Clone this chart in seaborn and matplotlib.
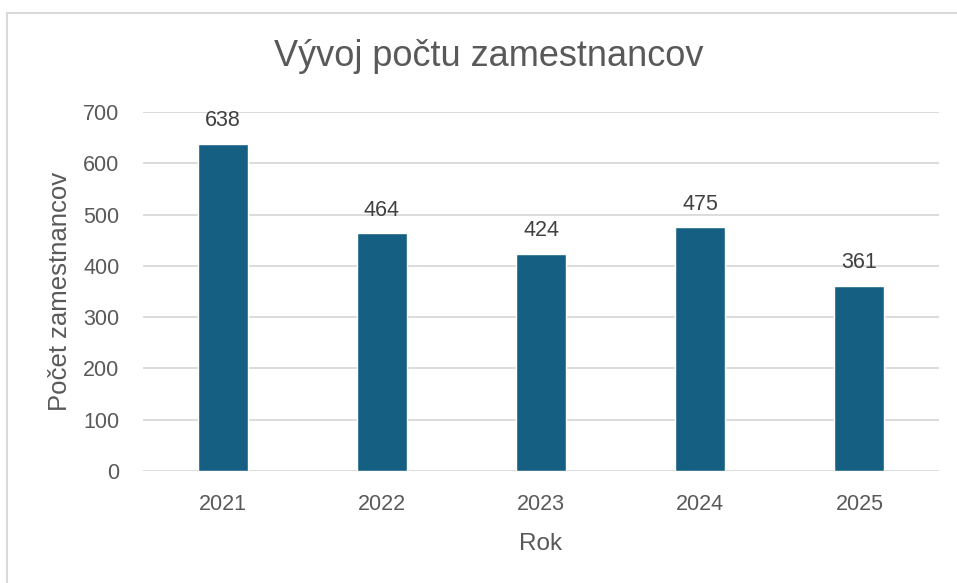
import matplotlib
matplotlib.use("Agg")
import matplotlib.pyplot as plt
import seaborn as sns
import pandas as pd
from matplotlib.lines import Line2D

years = ["2021", "2022", "2023", "2024", "2025"]
counts = [638, 464, 424, 475, 361]
yticks = [0, 100, 200, 300, 400, 500, 600, 700]

df = pd.DataFrame({"Rok": years, "Počet": counts})

sns.set_theme(style="white")
plt.rcParams['font.family'] = ['Liberation Sans', 'DejaVu Sans']

W, H = 957, 583
fig = plt.figure(figsize=(W / 100, H / 100), dpi=100)
ax = fig.add_axes([143 / W, 1 - 471 / H, (939 - 143) / W, (471 - 112) / H])

sns.barplot(data=df, x="Rok", y="Počet", color="#156082", width=0.314,
            saturation=1, ax=ax, zorder=3)

ax.set_ylim(0, 700)
ax.set_xlim(-0.5, len(years) - 0.5)
ax.set_yticks(yticks)
ax.yaxis.grid(True, color="#d9d9d9", linewidth=1.3, zorder=0)
ax.set_axisbelow(True)
for s in ax.spines.values():
    s.set_visible(False)
ax.tick_params(axis="both", length=0, labelsize=15.5, colors="#595959")
ax.tick_params(axis="y", pad=17)
ax.tick_params(axis="x", pad=16.5)

for i, v in enumerate(counts):
    ax.annotate(str(v), (i, v), xytext=(0, 9), textcoords="offset points",
                ha="center", va="bottom", fontsize=15.5, color="#404040")

ax.set_xlabel("Rok", fontsize=17.5, color="#595959", labelpad=13)
ax.set_ylabel("Počet zamestnancov", fontsize=18.5, color="#595959", labelpad=8)

fig.text(489 / W, 1 - 57 / H, "Vývoj počtu zamestnancov", ha="center", va="center",
         fontsize=26, color="#595959")

# outer chart border (left and top visible)
fig.add_artist(Line2D([7 / W, 7 / W], [0, 1 - 13 / H], transform=fig.transFigure,
                      color="#d9d9d9", linewidth=1.5))
fig.add_artist(Line2D([7 / W, 1], [1 - 13 / H, 1 - 13 / H], transform=fig.transFigure,
                      color="#d9d9d9", linewidth=1.5))

fig.savefig("out.png", dpi=100, facecolor="white")
